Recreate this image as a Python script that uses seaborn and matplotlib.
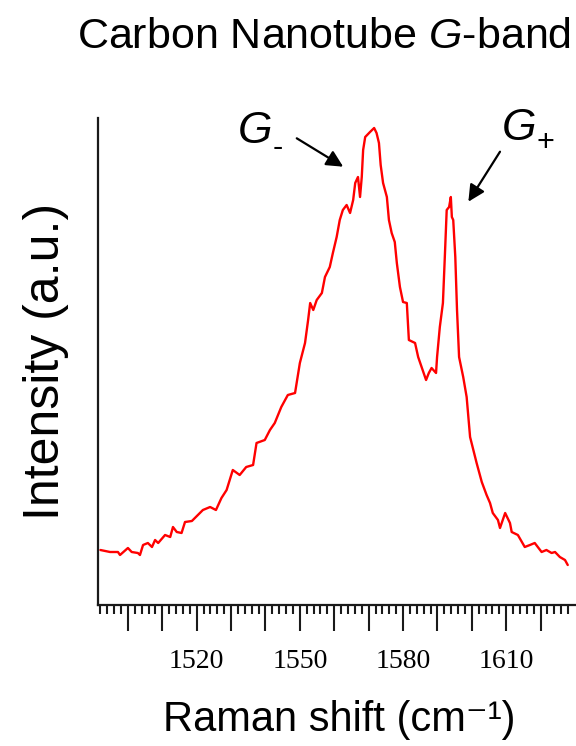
import matplotlib
matplotlib.use("Agg")
import matplotlib.pyplot as plt
import seaborn as sns
import pandas as pd

# ---- data ----
raman_shift = [
    1492.0, 1494.8, 1497.1, 1497.7, 1500.0, 1501.1, 1502.9, 1503.5, 1504.4, 1505.8,
    1507.0, 1507.9, 1508.8, 1510.8, 1512.3, 1513.1, 1514.2, 1515.6, 1516.6, 1518.6,
    1521.8, 1523.9, 1525.6, 1527.2, 1528.7, 1530.5, 1532.5, 1534.4, 1536.4, 1537.4,
    1539.8, 1541.3, 1542.7, 1544.6, 1546.5, 1548.6, 1550.0, 1551.5, 1552.4, 1553.0,
    1553.9, 1554.9, 1556.4, 1557.3, 1558.7, 1559.6, 1560.7, 1561.6, 1562.5, 1563.6,
    1564.6, 1565.5, 1566.1, 1566.9, 1567.5, 1568.0, 1568.4, 1569.0, 1570.4, 1571.6,
    1572.3, 1573.0, 1573.5, 1574.2, 1575.3, 1575.9, 1576.7, 1577.6, 1578.2, 1579.1,
    1580.0, 1581.1, 1581.7, 1583.5, 1584.4, 1585.7, 1586.7, 1587.5, 1588.3, 1589.6,
    1589.9, 1590.7, 1591.6, 1592.2, 1592.7, 1593.4, 1593.9, 1594.2, 1594.6, 1595.2,
    1595.7, 1596.3, 1597.5, 1598.5, 1599.5, 1601.4, 1602.9, 1604.3, 1605.3, 1606.1,
    1607.6, 1608.2, 1609.7, 1611.1, 1611.6, 1613.4, 1615.4, 1616.9, 1618.3, 1620.3,
    1621.7, 1623.2, 1624.2, 1625.6, 1627.1, 1627.9,
]
intensity = [
    55, 53, 53, 50, 57, 53, 52, 50, 60, 62,
    58, 65, 62, 70, 68, 78, 73, 72, 83, 84,
    95, 98, 95, 107, 115, 135, 130, 138, 140, 162,
    165, 175, 182, 198, 210, 212, 242, 262, 285, 302,
    295, 305, 312, 328, 338, 352, 368, 385, 395, 400,
    392, 405, 422, 428, 408, 428, 455, 468, 473, 477,
    472, 462, 440, 422, 408, 385, 372, 363, 342, 318,
    303, 302, 265, 262, 248, 235, 225, 232, 237, 232,
    248, 278, 302, 352, 395, 398, 408, 388, 385, 348,
    295, 248, 228, 208, 168, 142, 123, 110, 102, 92,
    85, 77, 92, 82, 73, 70, 58, 60, 62, 53,
    55, 52, 53, 48, 45, 40,
]
major_ticks = [1500, 1510, 1520, 1530, 1540, 1550, 1560, 1570, 1580, 1590, 1600, 1610, 1620]
labelled_ticks = [1520, 1550, 1580, 1610]
title = "Carbon Nanotube $\\mathit{G}$-band"
xlabel = "Raman shift (cm\u207b\u00b9)"
ylabel = "Intensity (a.u.)"
peak_names = ["G", "G"]
peak_subscripts = ["-", "+"]

df = pd.DataFrame({"shift": raman_shift, "intensity": intensity})

sns.set_style("white")
plt.rcParams["font.family"] = ["Liberation Sans", "DejaVu Sans"]
plt.rcParams["text.color"] = "black"
plt.rcParams["axes.labelcolor"] = "black"
plt.rcParams["xtick.color"] = "black"
plt.rcParams["mathtext.fontset"] = "custom"
plt.rcParams["mathtext.rm"] = "Liberation Sans"
plt.rcParams["mathtext.it"] = "Liberation Sans:italic"
plt.rcParams["mathtext.bf"] = "Liberation Sans:bold"

fig = plt.figure(figsize=(5.76, 7.46), dpi=100)
ax = fig.add_axes([98 / 576, 1 - 605 / 746, 478 / 576, 487 / 746])

sns.lineplot(data=df, x="shift", y="intensity", ax=ax, color="#ff0000",
             linewidth=1.7, sort=False, estimator=None)

ax.set_xlim(1491.3, 1630.3)
ax.set_ylim(0, 487)

for side in ["top", "right"]:
    ax.spines[side].set_visible(False)
for side in ["left", "bottom"]:
    ax.spines[side].set_color("#1a1a1a")
    ax.spines[side].set_linewidth(1.6)

ax.set_yticks([])
ax.set_xticks(major_ticks)
ax.set_xticklabels([str(t) if t in labelled_ticks else "" for t in major_ticks],
                   family="Liberation Serif", fontsize=20)
ax.set_xticks(list(range(1492, 1630, 2)), minor=True)
ax.tick_params(axis="x", which="major", direction="out", length=18.5, width=1.5,
               color="#1a1a1a", pad=13, bottom=True)
ax.tick_params(axis="x", which="minor", direction="out", length=6.5, width=1.5,
               color="#1a1a1a", bottom=True)

ax.set_xlabel(xlabel, fontsize=30)
ax.xaxis.set_label_coords(0.504, -0.236)
ax.xaxis.label.set_verticalalignment("center")
ax.set_ylabel(ylabel, fontsize=36)
ax.yaxis.set_label_coords(-0.108, 0.5)
ax.yaxis.label.set_verticalalignment("center")
ax.set_title(title, fontsize=31, x=0.473, y=1.166, pad=0, va="center", ha="center")

arrow_style = dict(arrowstyle="-|>,head_length=1.0,head_width=0.5",
                   color="black", lw=1.6, shrinkA=0, shrinkB=0)

# peak annotations: G-
ax.text(1536.9, 462, peak_names[0], fontsize=32, style="italic",
        ha="center", va="baseline", clip_on=False)
ax.text(1542.0, 449, peak_subscripts[0], fontsize=22,
        ha="left", va="baseline", clip_on=False)
ax.annotate("", xy=(1562.6, 438.3), xytext=(1549.1, 466.7), arrowprops=arrow_style)
# G+
ax.text(1613.7, 465, peak_names[1], fontsize=32, style="italic",
        ha="center", va="baseline", clip_on=False)
ax.text(1618.9, 454, peak_subscripts[1], fontsize=22,
        ha="left", va="baseline", clip_on=False)
ax.annotate("", xy=(1599.0, 403.3), xytext=(1608.2, 453.3), arrowprops=arrow_style)

fig.savefig("out.png", dpi=100)
